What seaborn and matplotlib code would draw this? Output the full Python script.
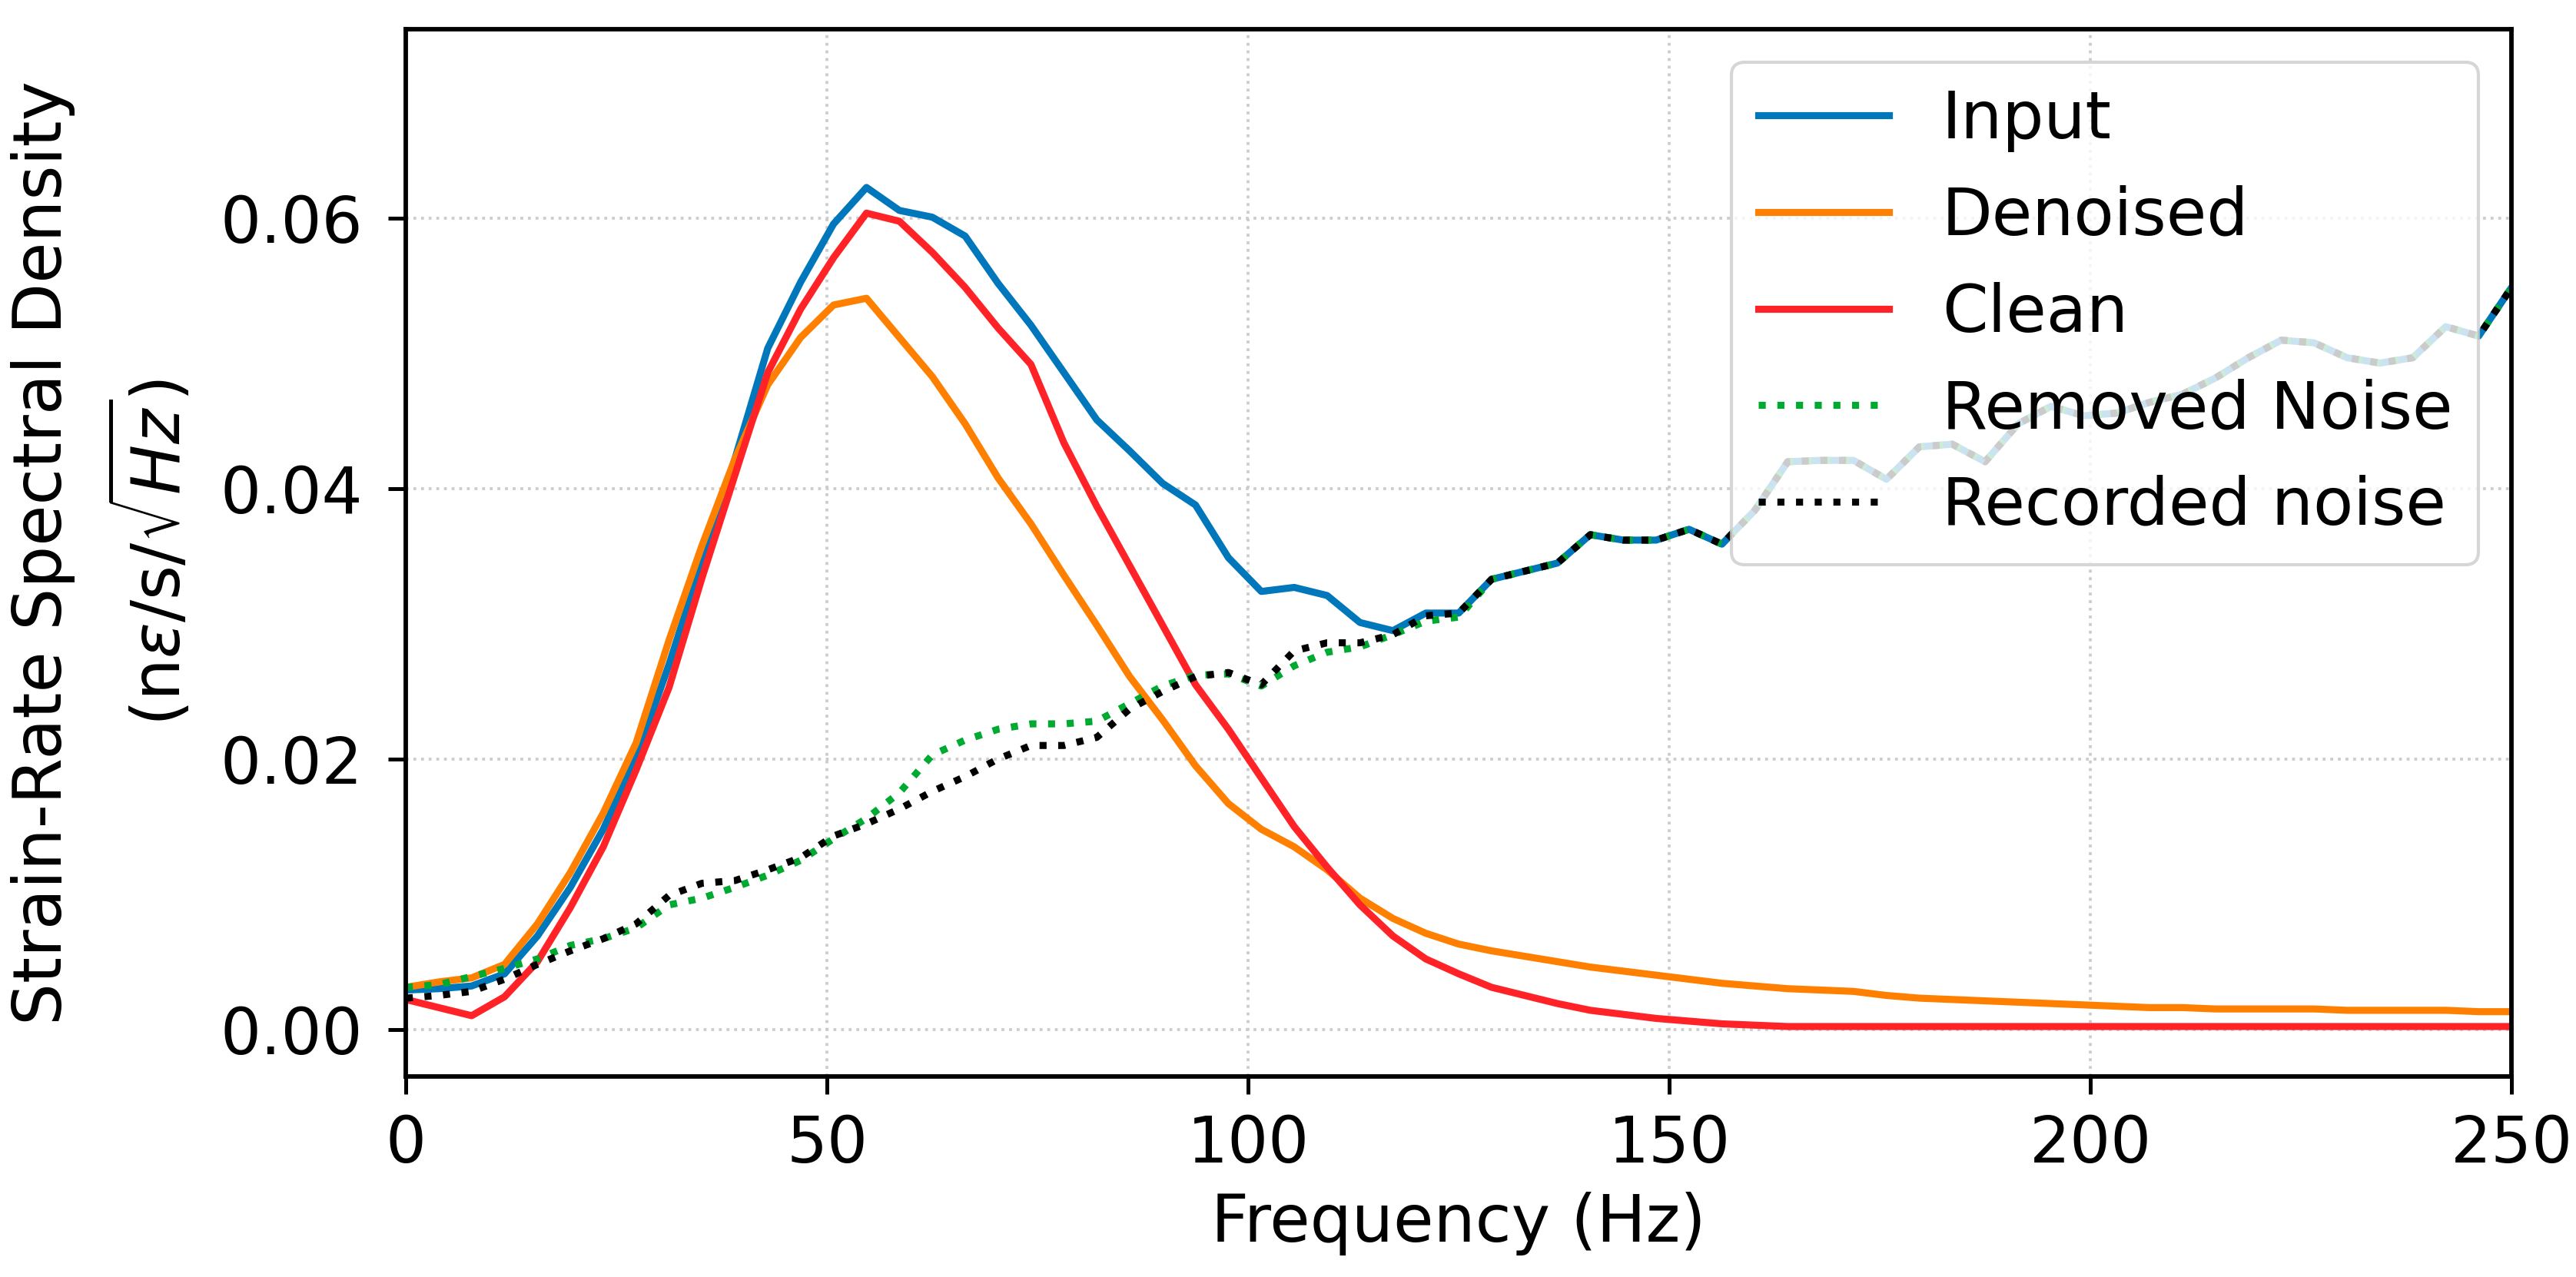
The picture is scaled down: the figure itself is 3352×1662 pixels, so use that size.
import numpy as np
import pandas as pd
import seaborn as sns
import matplotlib
matplotlib.use("Agg")
import matplotlib.pyplot as plt

# frequency grid of the spectra (65 bins from 0 to 250 Hz)
freq = np.linspace(0, 250, 65)

input_psd = [0.0029, 0.0030, 0.0032, 0.0041, 0.0069, 0.0105, 0.0148, 0.0201, 0.0270, 0.0346,
             0.0422, 0.0504, 0.0553, 0.0596, 0.0623, 0.0606, 0.0601, 0.0587, 0.0552, 0.0521,
             0.0486, 0.0451, 0.0428, 0.0404, 0.0388, 0.0349, 0.0324, 0.0327, 0.0321, 0.0301,
             0.0295, 0.0308, 0.0308, 0.0333, 0.0339, 0.0345, 0.0366, 0.0362, 0.0362, 0.0370,
             0.0359, 0.0384, 0.0420, 0.0421, 0.0421, 0.0407, 0.0431, 0.0433, 0.0420, 0.0448,
             0.0461, 0.0454, 0.0456, 0.0464, 0.0470, 0.0482, 0.0497, 0.0510, 0.0508, 0.0497,
             0.0493, 0.0497, 0.0520, 0.0513, 0.0549]

denoised_psd = [0.0031, 0.0035, 0.0038, 0.0048, 0.0078, 0.0116, 0.0160, 0.0212, 0.0288, 0.0358,
                0.0422, 0.0477, 0.0512, 0.0536, 0.0541, 0.0512, 0.0483, 0.0448, 0.0408, 0.0374,
                0.0336, 0.0299, 0.0261, 0.0229, 0.0195, 0.0167, 0.0148, 0.0135, 0.0118, 0.0097,
                0.0082, 0.0071, 0.0063, 0.0058, 0.0054, 0.0050, 0.0046, 0.0043, 0.0040, 0.0037,
                0.0034, 0.0032, 0.0030, 0.0029, 0.0028, 0.0025, 0.0023, 0.0022, 0.0021, 0.0020,
                0.0019, 0.0018, 0.0017, 0.0016, 0.0016, 0.0015, 0.0015, 0.0015, 0.0015, 0.0014,
                0.0014, 0.0014, 0.0014, 0.0013, 0.0013]

clean_psd = [0.0022, 0.0016, 0.0010, 0.0024, 0.0050, 0.0090, 0.0135, 0.0192, 0.0253, 0.0334,
             0.0410, 0.0486, 0.0533, 0.0571, 0.0604, 0.0598, 0.0575, 0.0549, 0.0519, 0.0492,
             0.0434, 0.0387, 0.0343, 0.0299, 0.0255, 0.0222, 0.0186, 0.0150, 0.0120, 0.0092,
             0.0069, 0.0052, 0.0041, 0.0031, 0.0025, 0.0019, 0.0014, 0.0011, 0.0008, 0.0006,
             0.0004, 0.0003, 0.0002, 0.0002, 0.0002, 0.0002, 0.0002, 0.0002, 0.0002, 0.0002,
             0.0002, 0.0002, 0.0002, 0.0002, 0.0002, 0.0002, 0.0002, 0.0002, 0.0002, 0.0002,
             0.0002, 0.0002, 0.0002, 0.0002, 0.0002]

removed_noise = [0.0031, 0.0033, 0.0039, 0.0045, 0.0052, 0.0062, 0.0067, 0.0075, 0.0092, 0.0097,
                 0.0105, 0.0114, 0.0125, 0.0141, 0.0156, 0.0175, 0.0203, 0.0214, 0.0222, 0.0226,
                 0.0226, 0.0228, 0.0241, 0.0254, 0.0262, 0.0263, 0.0254, 0.0269, 0.0279, 0.0283,
                 0.0292, 0.0302, 0.0305, 0.0333, 0.0339, 0.0345, 0.0366, 0.0362, 0.0362, 0.0370,
                 0.0359, 0.0384, 0.0420, 0.0421, 0.0421, 0.0407, 0.0431, 0.0433, 0.0420, 0.0448,
                 0.0461, 0.0454, 0.0456, 0.0464, 0.0470, 0.0482, 0.0497, 0.0510, 0.0508, 0.0497,
                 0.0493, 0.0497, 0.0520, 0.0513, 0.0549]

recorded_noise = [0.0023, 0.0025, 0.0028, 0.0037, 0.0048, 0.0058, 0.0067, 0.0078, 0.0099, 0.0108,
                  0.0110, 0.0118, 0.0127, 0.0143, 0.0152, 0.0163, 0.0176, 0.0187, 0.0200, 0.0210,
                  0.0210, 0.0216, 0.0237, 0.0250, 0.0261, 0.0264, 0.0255, 0.0280, 0.0286, 0.0286,
                  0.0292, 0.0306, 0.0308, 0.0333, 0.0339, 0.0345, 0.0366, 0.0362, 0.0362, 0.0370,
                  0.0359, 0.0384, 0.0420, 0.0421, 0.0421, 0.0407, 0.0431, 0.0433, 0.0420, 0.0448,
                  0.0461, 0.0454, 0.0456, 0.0464, 0.0470, 0.0482, 0.0497, 0.0510, 0.0508, 0.0497,
                  0.0493, 0.0497, 0.0520, 0.0513, 0.0549]

series_names = ["Input", "Denoised", "Clean", "Removed Noise", "Recorded noise"]
series_colors = ["#0077BB", "#FF8000", "#FF2226", "#00AA30", "black"]
series_styles = ["-", "-", "-", ":", ":"]


def main():
    plt.rcParams["font.family"] = ["DejaVu Sans"]
    plt.rcParams["font.size"] = 20

    fig = plt.figure(figsize=(3353 / 300, 1662 / 300), dpi=300)
    ax = fig.add_axes([0.1575, 0.157, 0.8172, 0.820])

    all_series = [input_psd, denoised_psd, clean_psd, removed_noise, recorded_noise]
    for name, values, color, ls in zip(series_names, all_series, series_colors, series_styles):
        df = pd.DataFrame({"freq": freq, "psd": values})
        sns.lineplot(data=df, x="freq", y="psd", ax=ax, color=color,
                     linestyle=ls, linewidth=2.2, label=name)

    ax.set_xlim(0, 250)
    ax.set_ylim(-0.0035, 0.0740)
    ax.set_xticks([0, 50, 100, 150, 200, 250])
    ax.set_yticks([0.00, 0.02, 0.04, 0.06])
    ax.yaxis.set_major_formatter(matplotlib.ticker.FormatStrFormatter("%.2f"))

    ax.grid(True, linestyle=":", color="#cccccc", linewidth=0.9)
    for spine in ax.spines.values():
        spine.set_linewidth(1.4)
        spine.set_color("black")
    ax.tick_params(axis="both", which="major", length=5.5, width=1.2,
                   labelsize=20, direction="out")
    ax.tick_params(axis="x", pad=6)
    ax.tick_params(axis="y", pad=8)

    ax.set_xlabel("Frequency (Hz)", fontsize=20.5, labelpad=5)
    ax.set_ylabel("Strain-Rate Spectral Density\n(n$\\varepsilon$/s/$\\sqrt{Hz}$)",
                  fontsize=20.8, labelpad=8, linespacing=1.45)

    ax.legend(loc="upper right", fontsize=20.5)

    fig.savefig("out.png", dpi=300)


if __name__ == "__main__":
    main()
